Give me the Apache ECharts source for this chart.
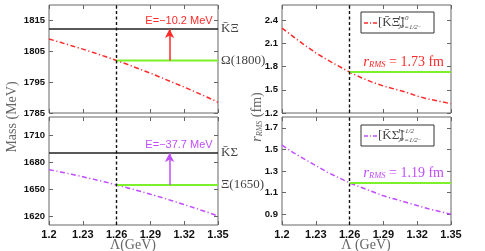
<!DOCTYPE html>
<html>
<head>
<meta charset="utf-8">
<script src="https://cdn.jsdelivr.net/npm/echarts@6/dist/echarts.min.js"></script>
<style>html,body{margin:0;padding:0;background:#fff}#c{width:485px;height:251px}</style>
</head>
<body>
<div id="c"></div>
<script>
// ---- data ----
const lambda = [1.20,1.21,1.22,1.23,1.24,1.25,1.26,1.27,1.28,1.29,1.30,1.31,1.32,1.33,1.34,1.35];
const massKXi = [1809.0,1807.9,1806.8,1805.7,1804.5,1803.3,1802.0,1800.7,1799.3,1797.9,1796.4,1794.9,1793.4,1791.8,1790.2,1788.5];
const massKSigma = [1671.5,1669.0,1666.4,1663.6,1660.7,1657.7,1654.5,1651.2,1647.8,1644.2,1640.5,1636.7,1632.7,1628.6,1624.4,1620.0];
const rmsKXi = [2.30,2.19,2.08,1.98,1.89,1.81,1.73,1.66,1.60,1.55,1.51,1.47,1.42,1.38,1.35,1.32];
const rmsKSigma = [1.54,1.47,1.41,1.35,1.29,1.24,1.19,1.15,1.11,1.07,1.04,1.01,0.98,0.95,0.925,0.90];
const thresholdMass = [1812.2, 1690.0];   // KbarXi, KbarSigma
const boundMass = [1802.0, 1654.5];       // Omega(1800), Xi(1650)
const boundRms = [1.73, 1.19];
const bindingE = ['−10.2', '−37.7'];
const cutoff = 1.26;
const arrowLambda = 1.307;
const xTicks = [1.2,1.23,1.26,1.29,1.32,1.35];
const yTicksTL = [1785,1795,1805,1815];
const yTicksBL = [1620,1650,1680,1710];
const yTicksTR = [1.2,1.5,1.8,2.1,2.4];
const yTicksBR = [0.9,1.1,1.3,1.5,1.7];
const thresholdNames = ['K\u0304\u039E','K\u0304\u03A3'];
const stateNames = ['\u03A9(1800)','\u039E(1650)'];

// ---- style ----
const RED = '#ff2a2a', PURPLE = '#c24dff', GREEN = '#7cf02a', AX = '#666';
const SANS = '"Liberation Sans", Arial, sans-serif';
const SERIF = '"Liberation Serif", "DejaVu Serif", serif';
const dashDot = [5, 2.5, 1.2, 2.5];

const grids = [
  {left:49, top:5, width:169, height:108},
  {left:49, top:117, width:169, height:108},
  {left:282, top:5, width:169, height:108},
  {left:282, top:117, width:169, height:108}
].map(g => Object.assign({show:true, borderColor:AX, borderWidth:1, backgroundColor:'transparent', containLabel:false}, g));

const yRanges = [[1785,1820],[1610,1730],[1.2,2.6],[0.8,1.8]];
const yTicks = [yTicksTL, yTicksBL, yTicksTR, yTicksBR];
const yFmt = [v=>String(Math.round(v)), v=>String(Math.round(v)), v=>v.toFixed(1), v=>v.toFixed(1)];

const xAxis = [], yAxis = [];
for (let g = 0; g < 4; g++) {
  xAxis.push({type:'value', gridIndex:g, min:1.2, max:1.35, position:'bottom',
    axisLine:{show:false}, splitLine:{show:false},
    axisTick:{show:true, inside:true, length:4, customValues:xTicks, lineStyle:{color:AX}},
    axisLabel:{show:(g===1||g===3), customValues:xTicks, margin:4, color:'#111', fontFamily:SANS, fontWeight:'bold', fontSize:11,
      formatter:v=>String(+(+v).toFixed(2))}});
}
for (let g = 0; g < 4; g++) {
  xAxis.push({type:'value', gridIndex:g, min:1.2, max:1.35, position:'top',
    axisLine:{show:false}, splitLine:{show:false},
    axisTick:{show:true, inside:true, length:4, customValues:xTicks, lineStyle:{color:AX}},
    axisLabel:{show:false}});
}
for (let g = 0; g < 4; g++) {
  yAxis.push({type:'value', gridIndex:g, min:yRanges[g][0], max:yRanges[g][1], position:'left',
    axisLine:{show:false}, splitLine:{show:false},
    axisTick:{show:true, inside:true, length:4, customValues:yTicks[g], lineStyle:{color:AX}},
    axisLabel:{show:true, customValues:yTicks[g], margin:4, color:'#111', fontFamily:SANS, fontWeight:'bold', fontSize:9.5,
      formatter:yFmt[g]}});
}
for (let g = 0; g < 4; g++) {
  yAxis.push({type:'value', gridIndex:g, min:yRanges[g][0], max:yRanges[g][1], position:'right',
    axisLine:{show:false}, splitLine:{show:false},
    axisTick:{show:true, inside:true, length:4, customValues:yTicks[g], lineStyle:{color:AX}},
    axisLabel:{show:false}});
}

const lastL = lambda[lambda.length-1];
const vline = {silent:true, symbol:'none', label:{show:false},
  lineStyle:{color:'#111', type:[3,2.5], width:1.4}, data:[{xAxis:cutoff}]};

function pairs(ys){ return lambda.map((x,i)=>[x,ys[i]]); }
const series = [];
const curves = [massKXi, massKSigma, rmsKXi, rmsKSigma];
const colors = [RED, PURPLE, RED, PURPLE];
for (let g = 0; g < 4; g++) {
  series.push({type:'line', xAxisIndex:g, yAxisIndex:g, data:pairs(curves[g]), showSymbol:false, smooth:false,
    lineStyle:{color:colors[g], width:1.5, type:dashDot}, z:3, markLine:vline});
}
for (let k = 0; k < 2; k++) {
  series.push({type:'line', xAxisIndex:k, yAxisIndex:k, data:[[lambda[0],thresholdMass[k]],[lastL,thresholdMass[k]]],
    showSymbol:false, lineStyle:{color:'#222', width:1.5}, z:2,
    endLabel:{show:true, formatter:thresholdNames[k], distance:3, color:'#444', fontFamily:SERIF, fontSize:13},
    markLine:{silent:true, label:{show:false}, symbol:['none','arrow'], symbolSize:[7,9],
      lineStyle:{color:colors[k], width:1.5, type:'solid'},
      data:[[{coord:[arrowLambda,boundMass[k]]},{coord:[arrowLambda,thresholdMass[k]]}]]}});
  series.push({type:'line', xAxisIndex:k, yAxisIndex:k, data:[[cutoff,boundMass[k]],[lastL,boundMass[k]]],
    showSymbol:false, lineStyle:{color:GREEN, width:2}, z:4,
    endLabel:{show:true, formatter:stateNames[k], distance:3, color:'#444', fontFamily:SERIF, fontSize:13}});
}
for (let k = 0; k < 2; k++) {
  series.push({type:'line', xAxisIndex:2+k, yAxisIndex:2+k, data:[[cutoff,boundRms[k]],[lastL,boundRms[k]]],
    showSymbol:false, lineStyle:{color:GREEN, width:2}, z:4});
}

function legendBox(y0, color, name, sup){
  return [
    {type:'rect', shape:{x:361, y:y0, width:73, height:21}, style:{fill:'#fff', stroke:'#333', lineWidth:1}, z:10},
    {type:'line', shape:{x1:364, y1:y0+11, x2:377, y2:y0+11}, style:{stroke:color, lineWidth:1.3, lineDash:[4,2,1,2]}, z:11},
    {type:'text', x:378, y:y0+11, z:11, style:{text:'['+name+']', font:'13px '+SERIF, fill:'#444', textVerticalAlign:'middle'}},
    {type:'text', x:398, y:y0+6, z:11, style:{text:sup, font:'italic 7px '+SERIF, fill:'#444', textVerticalAlign:'middle'}},
    {type:'text', x:398, y:y0+15.5, z:11, style:{text:'{a|J}{b|P}{a|=1/2}{b|\u2212}', fill:'#444', textVerticalAlign:'middle',
      rich:{a:{font:'italic 7px '+SERIF, fill:'#444'}, b:{font:'italic 5px '+SERIF, fill:'#444', verticalAlign:'top'}}}}
  ];
}
function rmsText(y, color, val){
  return {type:'text', x:444, y:y, z:11, style:{text:'{r|r}{s|RMS}{t| = '+val+' fm}', textAlign:'right', textVerticalAlign:'middle',
    rich:{r:{font:'italic 15px '+SERIF, fill:color}, s:{font:'italic 8.5px '+SERIF, fill:color, padding:[5,0,0,0]}, t:{font:'14px '+SERIF, fill:color}}}};
}

const graphic = [
  {type:'text', x:179, y:21, style:{text:'E='+bindingE[0]+' MeV', font:'11px '+SANS, fill:RED, textAlign:'center', textVerticalAlign:'middle'}},
  {type:'text', x:179, y:145, style:{text:'E='+bindingE[1]+' MeV', font:'11px '+SANS, fill:PURPLE, textAlign:'center', textVerticalAlign:'middle'}},
  {type:'text', x:12, y:117, rotation:Math.PI/2, style:{text:'Mass (MeV)', font:'14px '+SERIF, fill:'#666', textAlign:'center', textVerticalAlign:'middle'}},
  {type:'text', x:257, y:117, rotation:Math.PI/2, style:{text:'{r|r}{s|RMS}{t| (fm)}', textAlign:'center', textVerticalAlign:'middle',
    rich:{r:{font:'italic 14px '+SERIF, fill:'#666'}, s:{font:'italic 8px '+SERIF, fill:'#666', padding:[5,0,0,0]}, t:{font:'14px '+SERIF, fill:'#666'}}}},
  {type:'text', x:133, y:245, style:{text:'\u039B(GeV)', font:'14px '+SERIF, fill:'#666', textAlign:'center', textVerticalAlign:'middle'}},
  {type:'text', x:366, y:245, style:{text:'\u039B (GeV)', font:'14px '+SERIF, fill:'#666', textAlign:'center', textVerticalAlign:'middle'}},
  rmsText(62, RED, boundRms[0].toFixed(2)),
  rmsText(173, PURPLE, boundRms[1].toFixed(2))
].concat(legendBox(12, RED, 'K\u0304\u039E', 'I=0'), legendBox(125, PURPLE, 'K\u0304\u03A3', 'I=1/2'));

const chart = echarts.init(document.getElementById('c'), null, {renderer:'canvas'});
chart.setOption({animation:false, backgroundColor:'#fff', grid:grids, xAxis:xAxis, yAxis:yAxis, series:series, graphic:graphic});
</script>
</body>
</html>
